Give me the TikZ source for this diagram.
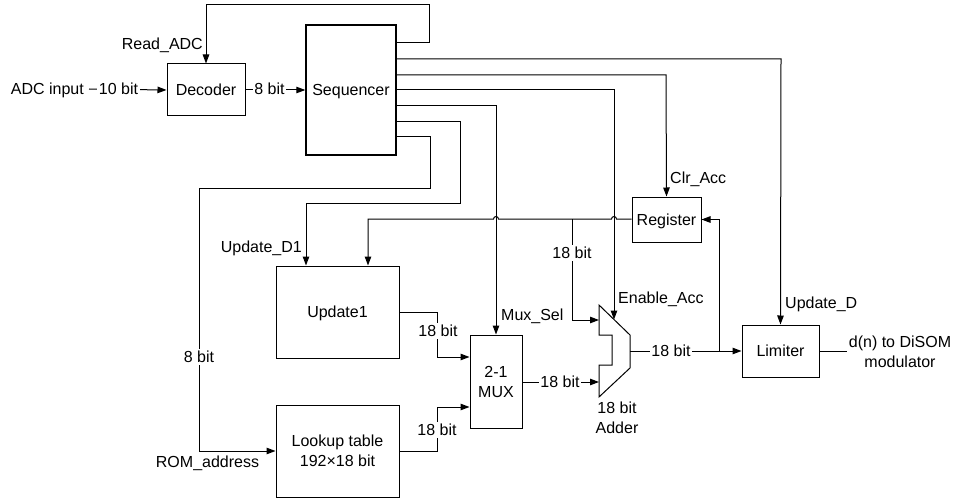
\documentclass[tikz,border=0pt]{standalone}
\usepackage{fontspec}
\setmainfont{Liberation Sans}
\usetikzlibrary{arrows.meta}
\begin{document}
\begin{tikzpicture}[x=1pt,y=-1pt,
  every node/.style={font=\fontsize{16}{20}\selectfont},
  ln/.style={line width=1pt},
  arr/.style={ln,-{Triangle[length=9pt,width=6.5pt]}},
  blk/.style={draw,line width=1pt,inner sep=0pt,align=center},
  ctext/.style={text height=11.5pt,text depth=0pt},
  lbl/.style={inner sep=0pt,ctext},
  wl/.style={lbl,fill=white,inner xsep=1.5pt,inner ysep=2pt},
  hop/.style={}
]
\useasboundingbox (0,0) rectangle (953,500);

% blocks
\node[blk,ctext,minimum width=78pt,minimum height=52pt] (dec) at (206,90) {Decoder};
\node[blk,ctext,minimum width=90pt,minimum height=130pt,line width=1.4pt] (seq) at (351,90) {Sequencer};
\node[blk,ctext,minimum width=123pt,minimum height=92pt] (upd) at (337.5,312) {Update1};
\node[blk,minimum width=123pt,minimum height=92pt] (lut) at (337.5,451) {Lookup table\\192×18 bit};
\node[blk,minimum width=52pt,minimum height=93pt] (mux) at (496,381.5) {2-1\\MUX};
\node[blk,ctext,minimum width=69pt,minimum height=45pt] (reg) at (666.5,219.5) {Register};
\node[blk,ctext,minimum width=77pt,minimum height=52pt] (lim) at (780.5,351) {Limiter};

% adder
\coordinate (addA) at (599,320);
\coordinate (addB) at (599,382);
\coordinate (addOut) at (630,351);
\coordinate (addTop) at (614,319.5);
\draw[ln] (599,305) -- (630,335) -- (630,368) -- (599,397) -- (599,365) -- (612,365) -- (612,335) -- (599,335) -- cycle;
\node[align=center,inner sep=0pt] (addlbl) at (617,418) {18 bit\\Adder};

% text labels
\node[lbl,anchor=east] (adc) at (84,89) {ADC input};
\node[lbl,anchor=east] (radc) at (203,44) {Read\_ADC};
\node[lbl,anchor=east] (ud1) at (302,247) {Update\_D1};
\node[lbl,anchor=west] (clr) at (670,178) {Clr\_Acc};
\node[lbl,anchor=west] (ena) at (618,298) {Enable\_Acc};
\node[lbl,anchor=west] (msel) at (501,315) {Mux\_Sel};
\node[lbl,anchor=west] (ud) at (785,303) {Update\_D};
\node[lbl] (rom) at (207.5,462) {ROM\_address};
\node[align=center,inner sep=0pt] (out) at (900,352) {d(n) to DiSOM\\modulator};

% bend coordinates
\coordinate (c43) at (429,43);
\coordinate (c5a) at (429,5);
\coordinate (c5b) at (206,5);
\coordinate (c59) at (781,59);
\coordinate (c75) at (666,75);
\coordinate (c90) at (614,90);
\coordinate (c106) at (496,106);
\coordinate (c122) at (460,122);
\coordinate (c203a) at (460,203);
\coordinate (c203b) at (306,203);
\coordinate (c137) at (430,137);
\coordinate (c188a) at (430,188);
\coordinate (c188b) at (199,188);
\coordinate (c451) at (199,451);
\coordinate (fb) at (368,219);
\coordinate (jn) at (572,219);
\coordinate (u1) at (437,312);
\coordinate (u2) at (437,357);
\coordinate (l1) at (437,451);
\coordinate (l2) at (437,407);
\coordinate (rfb) at (719,351);

% connectors
\draw[arr] ([xshift=5pt]adc.east) -- (dec.west);
\node[wl] at (118.5,89) {10 bit};
\draw[arr] (dec.east) -- (seq.west);
\node[wl] at (269.5,89) {8 bit};

\draw[arr] (seq.east |- c43) -- (c43) -- (c5a) -- (c5b) -- (dec.north);
\draw[arr] (seq.east |- c59) -- (c59) -- (lim.north);
\draw[arr] (seq.east |- c75) -- (c75) -- (reg.north);
\draw[arr] (seq.east |- c90) -- (c90) -- (addTop);
\draw[arr] (seq.east |- c106) -- (c106) -- (mux.north);
\draw[arr] (seq.east |- c122) -- (c122) -- (c203a) -- (c203b) -- (upd.north -| c203b);
\draw[arr] (seq.east |- c137) -- (c137) -- (c188a) -- (c188b) -- (c451) -- (lut.west |- c451);
\node[wl] at (199,357) {8 bit};

% register feedback with hops
\draw[arr] (reg.west |- fb) -- (616.5,219) arc[start angle=0,end angle=-180,radius=2.5]
  -- (498.5,219) arc[start angle=0,end angle=-180,radius=2.5]
  -- (fb) -- (upd.north -| fb);
\draw[arr] (jn) -- (jn |- addA) -- (addA);
\node[wl] at (572,253) {18 bit};

\draw[arr] (upd.east |- u1) -- (u1) -- (u2) -- (mux.west |- u2);
\node[wl] at (438,331) {18 bit};
\draw[arr] (lut.east |- l1) -- (l1) -- (l2) -- (mux.west |- l2);
\node[wl] at (437,430) {18 bit};

\draw[arr] (mux.east |- addB) -- (addB);
\node[wl] at (560,382) {18 bit};
\draw[arr] (addOut) -- (lim.west);
\node[wl] at (671,351) {18 bit};
\draw[arr] (rfb) -- (rfb |- reg.east) -- (reg.east);
\draw[ln] (lim.east) -- ([xshift=-2pt]lim.east -| out.west);
\end{tikzpicture}
\end{document}
